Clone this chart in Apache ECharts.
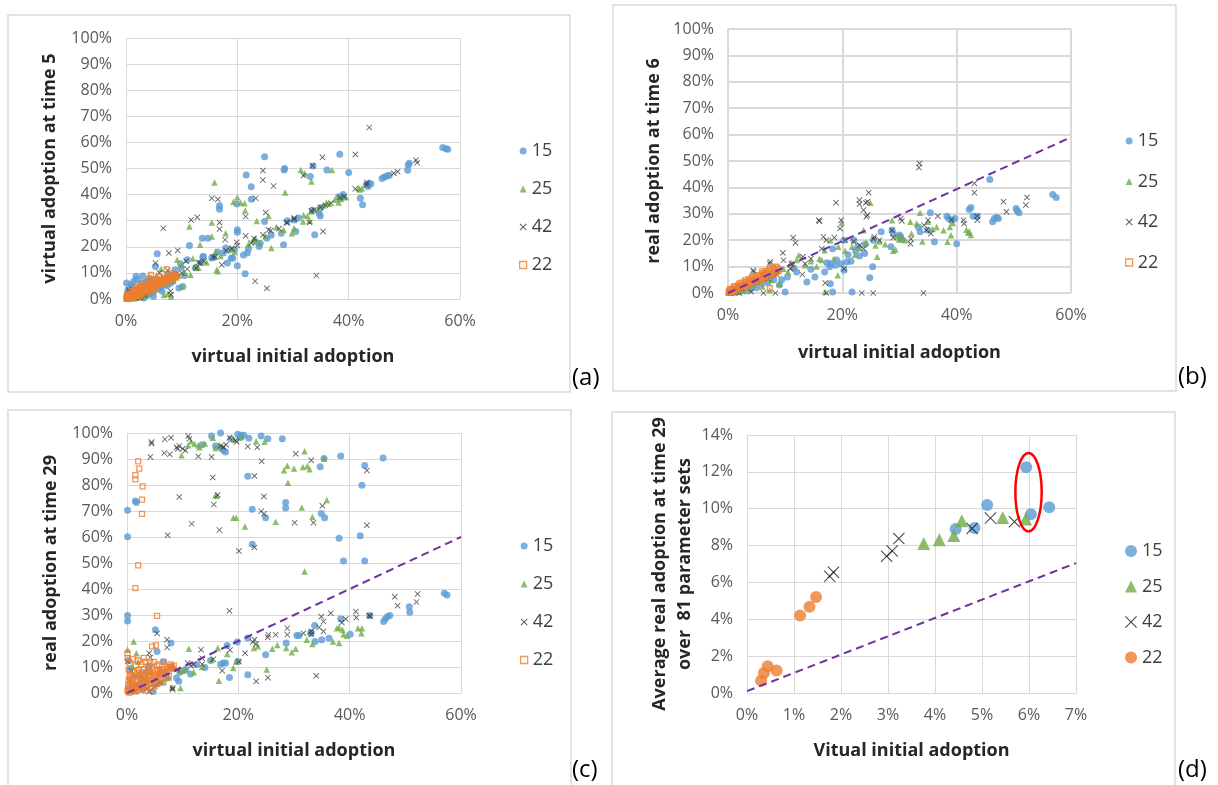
<!DOCTYPE html>
<html>
<head>
<meta charset="utf-8">
<script src="https://cdn.jsdelivr.net/npm/echarts@6/dist/echarts.min.js"></script>
<style>
  html, body { margin: 0; padding: 0; background: #fff; }
  #chart { width: 1218px; height: 785px; }
</style>
</head>
<body>
<div id="chart"></div>
<script>
// ---- data (values in percent: [initial adoption, later adoption]) ----
const seriesNames = ['15', '25', '42', '22'];
const xTicksPct = [0, 20, 40, 60];
const yTicksPct = [0, 10, 20, 30, 40, 50, 60, 70, 80, 90, 100];
const xTicksAvg = [0, 1, 2, 3, 4, 5, 6, 7];
const yTicksAvg = [0, 2, 4, 6, 8, 10, 12, 14];

// (a) virtual adoption at time 5
const a15 = [[57.5,57.6],[56.9,58.0],[57.8,57.4],[50.7,51.3],[50.9,52.0],[50.6,49.3],[46.0,46.2],[46.4,46.7],[46.9,47.1],[47.3,47.4],
  [43.2,43.8],[43.6,44.3],[44.0,44.2],[43.5,43.1],[42.1,38.6],[42.5,36.1],[40.0,48.5],[38.4,55.5],[38.2,39.2],[38.9,39.3],
  [36.1,49.4],[34.7,32.9],[34.9,31.8],[33.9,24.6],[33.1,46.9],[33.6,51.0],[30.5,25.9],[30.2,30.3],[28.4,49.4],[28.5,50.0],
  [28.3,20.8],[27.9,25.2],[25.3,23.3],[24.9,29.7],[24.9,54.5],[23.9,20.1],[24.1,21.4],[22.5,43.0],[22.5,38.2],[21.6,47.5],
  [21.4,9.7],[21.1,16.9],[21.8,17.6],[20.0,26.5],[20.0,25.6],[19.9,36.4],[20.0,12.7],[18.9,15.7],[18.6,18.9],[18.2,13.8],
  [17.5,17.6],[17.9,19.5],[16.8,35.7],[16.8,34.4],[15.4,15.7],[14.7,23.3],[13.7,23.3],[13.9,16.3],[11.4,20.5],[10.2,4.8],
  [9.5,4.2],[8.4,6.8],[8.8,11.2],[5.6,17.3],[5.3,12.5],[4.2,8.0],[3.5,3.6],[1.8,8.7],[1.1,4.8],[0.1,6.1],[2.5,4.8],[4.9,1.0],
  [23.2,22.0],[26.1,24.5],[22.0,19.3],[19.5,19.0],[12.5,12.0],[10.5,9.0],[9.0,8.5],[7.0,6.5],[6.0,5.0],[3.0,2.0],[2.0,1.5],
  [1.5,3.0],[0.5,1.0],[1.0,2.0],[2.8,6.2],[0.3,2.5],[7.5,9.5],[6.5,3.0],[9.8,13.5],[11.0,15.0],[15.8,16.0],[13.5,14.0],
  [16.5,18.0],[29.0,30.0],[31.0,31.0],[35.0,35.0],[39.0,40.0],[33.5,34.0],[19.2,15.6],[13.8,16.2],[9.9,12.1],
  [0.2,0.4],[0.6,0.1],[1.2,0.8],[1.6,0.3],[2.2,0.6],[2.6,1.1],[3.2,0.4],[3.8,1.5],[4.4,2.2],[5.0,2.8],[5.8,3.8],[0.4,3.5],
  [0.9,5.5],[1.4,6.8],[2.0,7.5],[3.0,8.8],[3.6,6.5],[6.2,4.4],[7.4,5.2],[8.0,6.0]];
const a25 = [[41.8,42.4],[42.4,42.4],[42.0,42.0],[38.2,37.0],[38.2,39.0],[37.5,38.0],[38.6,38.3],[37.0,49.4],[33.3,45.0],[33.3,33.5],
  [31.4,49.4],[32.1,48.2],[31.9,32.2],[32.6,31.8],[33.0,30.0],[31.8,29.7],[30.2,27.1],[29.8,25.2],[28.6,40.8],[28.3,26.5],
  [26.1,19.5],[25.6,31.8],[23.5,29.9],[23.2,23.3],[23.0,22.5],[21.4,33.9],[21.3,36.7],[20.0,39.0],[19.3,37.3],[20.6,36.9],
  [17.9,25.2],[15.9,44.6],[15.4,29.3],[15.4,23.9],[16.1,18.2],[16.3,11.2],[16.5,10.6],[13.3,20.8],[11.4,27.8],[12.3,12.5],
  [11.6,9.3],[10.0,4.8],[8.1,1.0],[7.5,2.0],[6.8,1.5],[18.8,19.5],[19.5,18.0],[17.0,16.5],[14.5,14.0],[13.0,12.0],[10.5,10.0],
  [9.5,9.0],[8.5,7.0],[6.5,8.5],[7.0,5.5],[5.0,4.0],[4.0,2.5],[3.0,1.0],[2.0,0.5],[5.5,9.0],[6.3,11.5],[10.0,13.0],[9.2,15.0],
  [12.0,15.5],[25.0,24.0],[27.0,27.5],[24.0,21.5],[22.0,21.0],[35.5,35.8],[36.5,36.5],[34.5,34.5],[39.5,39.0],[36.0,37.0],
  [0.5,0.3],[1.0,0.6],[1.5,1.2],[2.5,1.8],[3.5,2.0],[4.5,3.3],[1.2,2.6],[2.2,3.8]];
const a42 = [[43.7,65.7],[41.2,55.4],[41.2,42.2],[43.2,43.7],[43.3,44.6],[52.1,53.2],[52.3,52.2],[48.1,48.2],[48.8,48.8],[35.3,54.3],
  [35.4,25.9],[34.2,9.0],[33.5,51.1],[33.0,29.3],[33.3,33.8],[31.9,47.3],[30.2,31.0],[28.8,29.3],[26.5,43.3],[25.1,33.1],
  [25.6,26.5],[24.6,24.6],[24.6,49.2],[24.6,45.6],[25.3,4.1],[23.2,6.8],[23.3,38.6],[21.5,31.6],[21.5,24.2],[19.9,21.7],
  [16.8,29.3],[16.8,26.8],[16.5,38.2],[15.4,38.6],[17.8,22.7],[17.2,13.1],[15.6,16.1],[12.8,31.3],[11.7,30.3],[13.3,13.8],
  [12.6,11.8],[9.3,18.6],[7.7,17.6],[6.7,27.1],[5.3,13.8],[8.1,1.7],[8.0,3.0],[34.9,35.2],[35.8,35.9],[36.8,36.7],[38.5,38.8],
  [39.2,39.2],[33.8,34.1],[30.2,30.5],[29.0,29.2],[27.5,27.0],[26.0,26.2],[23.0,23.2],[22.5,21.5],[20.0,20.5],[19.0,19.3],
  [18.0,18.5],[16.0,16.1],[14.0,14.5],[11.0,11.5],[10.0,10.0],[9.0,9.5],[7.0,7.8],[6.0,6.5],[5.0,5.5],[4.0,3.8],[3.0,3.5],
  [2.0,2.5],[1.0,1.5],[0.5,3.5],[0.2,0.8],[2.5,0.5],[4.5,7.0],[7.5,11.0],[6.0,10.0],[10.8,14.5],[13.0,14.0],
  [0.1,0.3],[0.3,1.8],[0.8,0.4],[1.5,0.8],[3.5,1.2],[0.6,2.6]];
const a22 = [[0.1,0.2],[0.2,0.5],[0.3,0.1],[0.4,0.8],[0.5,0.3],[0.6,1.0],[0.7,0.5],[0.8,1.3],[0.9,0.7],[1.0,1.5],[1.1,0.9],
  [1.2,1.8],[1.3,1.1],[1.4,2.2],[1.5,1.4],[1.6,2.5],[1.7,1.6],[1.8,2.9],[1.9,1.9],[2.0,3.2],[2.1,2.2],[2.2,3.5],[2.3,2.5],
  [2.4,1.2],[2.5,3.9],[2.6,2.8],[2.8,4.2],[3.0,3.1],[3.2,4.6],[3.4,3.5],[3.6,5.0],[3.8,3.9],[4.0,5.4],[4.2,4.3],[4.5,9.2],
  [4.6,5.9],[4.8,4.8],[5.0,6.3],[5.3,5.3],[5.6,6.8],[5.9,5.9],[6.2,7.3],[6.5,6.4],[6.8,7.8],[7.1,7.0],[7.3,11.4],[7.4,8.3],
  [7.7,7.5],[8.0,8.8],[8.3,8.1],[8.6,9.2],[8.9,8.6],[0.2,1.5],[1.0,2.8],[2.0,4.5],[3.0,5.8],[4.0,6.8],[5.0,7.6],[6.0,8.5],
  [0.3,1.2],[0.6,0.2],[0.9,1.9],[1.2,0.6],[1.5,2.4],[1.8,1.2],[2.1,3.0],[2.4,1.9],[2.7,3.6],[3.0,2.4],[3.3,4.0],[3.6,3.0],
  [3.9,4.8],[4.2,3.6],[4.5,5.4],[4.8,4.2],[5.1,5.9],[5.4,4.8],[5.7,6.4],[6.0,5.4],[6.3,6.9],[6.6,5.9],[6.9,7.4],[7.2,6.6],
  [7.5,8.0],[7.8,7.0],[8.1,8.4],[8.4,7.6],[8.7,8.9],[9.0,8.2],[1.0,0.3],[2.0,1.0],[3.0,1.8],[4.0,2.8],[5.0,3.6],[0.5,1.8],
  [1.5,3.2],[2.5,4.6],[3.5,5.7],[4.5,6.6],[5.5,7.2],[6.5,7.7],[7.5,8.8],[8.5,9.8],[0.1,0.9],[0.7,2.0],[1.3,2.9],[1.9,3.8]];

// (b) real adoption at time 6
const b15 = [[56.8,37.3],[57.4,36.2],[50.4,32.0],[50.9,30.4],[50.6,31.2],[46.3,27.0],[46.6,28.2],[47.0,28.6],[47.3,28.2],[45.8,43.0],
  [42.2,31.6],[42.5,32.4],[42.9,29.1],[43.6,29.1],[40.0,18.7],[39.1,27.6],[39.7,28.2],[38.3,29.1],[38.6,28.2],[35.4,30.4],
  [36.1,19.4],[35.0,23.8],[33.6,23.2],[33.3,25.0],[30.2,21.3],[30.4,20.3],[30.0,22.0],[28.7,23.8],[28.5,17.5],[28.9,22.5],
  [26.8,23.2],[25.4,20.0],[25.3,9.9],[24.8,5.8],[23.9,15.0],[22.7,17.5],[22.0,20.0],[22.3,16.0],[21.7,0.4],[20.3,20.0],
  [20.3,8.6],[19.8,11.1],[20.8,11.8],[18.3,16.8],[17.9,11.1],[17.8,9.9],[18.3,0.4],[17.9,3.5],[16.9,8.0],[17.3,11.5],
  [15.2,6.1],[13.8,4.2],[10.0,0.4],[10.4,6.1],[9.4,5.0],[24.0,18.5],[23.0,14.0],[21.0,14.5],[19.0,12.5],[12.0,8.0],[11.5,9.5],
  [14.5,9.0],[8.0,5.0],[7.0,4.0],[6.0,3.5],[5.0,2.0],[4.0,1.5],[3.0,0.8],[2.0,0.5],[1.0,0.3],[6.5,7.5],[8.5,8.0],[9.0,3.0],
  [4.5,4.0],[3.5,2.5],[2.5,1.8],[21.5,12.0],[18.8,10.5],[0.4,0.1],[1.5,1.0],[5.5,5.0],[7.5,6.2]];
const b25 = [[42.0,22.8],[41.7,24.0],[42.2,23.4],[42.5,22.0],[39.0,21.9],[38.4,19.4],[37.7,23.8],[38.8,25.0],[39.3,26.5],[33.6,30.4],
  [33.0,26.3],[31.9,27.0],[32.1,22.5],[29.9,20.3],[30.4,21.0],[29.5,21.5],[28.7,27.6],[28.9,16.0],[29.3,16.5],[24.9,34.2],
  [23.7,23.8],[24.2,19.0],[26.1,13.7],[25.8,18.0],[21.7,17.5],[22.2,14.5],[19.9,26.6],[19.3,17.5],[19.2,6.7],[17.9,20.0],
  [16.9,16.2],[16.4,12.5],[16.0,13.0],[17.0,0.5],[12.4,14.3],[11.4,9.9],[11.0,11.5],[9.7,9.2],[9.0,3.5],[7.3,1.0],[6.5,5.5],
  [5.5,4.5],[4.5,3.0],[3.5,2.0],[2.5,1.0],[1.5,0.5],[6.0,2.5],[8.0,7.0],[7.5,5.0],[10.5,8.0],[12.0,12.5],[13.5,10.5],[14.5,12.0],
  [15.5,10.0],[18.5,13.0],[20.5,16.0],[23.0,17.0],[26.5,19.5],[27.5,18.5],[31.0,20.0],[34.0,19.5],[35.0,27.0],[36.5,25.0],[35.8,24.2]];
const b42 = [[33.5,49.1],[33.4,47.5],[43.1,41.5],[43.1,38.0],[43.6,27.6],[43.6,29.1],[41.2,27.6],[41.3,26.3],[52.3,36.2],[52.1,33.3],
  [48.7,30.8],[48.2,34.6],[39.1,27.6],[36.7,29.1],[35.0,27.6],[34.7,23.8],[34.3,25.7],[30.2,28.2],[30.4,27.3],[28.7,23.8],
  [28.9,21.0],[31.9,18.7],[34.2,0.0],[24.6,38.0],[24.4,34.6],[24.1,34.2],[23.7,31.4],[24.2,28.9],[24.4,29.5],[23.0,35.2],
  [23.0,33.7],[26.5,20.0],[25.5,20.6],[25.6,21.3],[23.7,16.8],[23.0,18.1],[23.4,0.0],[25.4,0.0],[19.8,27.6],[19.6,24.4],
  [18.9,34.2],[15.9,27.6],[16.0,27.2],[17.2,20.0],[16.7,21.3],[18.6,21.0],[16.4,16.8],[20.3,9.2],[17.0,3.8],[17.2,0.0],
  [11.4,21.0],[11.8,19.0],[9.6,15.2],[9.7,12.4],[11.1,11.1],[10.9,9.2],[13.1,13.7],[13.5,11.1],[7.3,11.1],[7.4,11.8],[4.4,8.6],
  [4.5,8.0],[8.3,0.0],[6.2,0.0],[5.0,4.0],[6.0,6.5],[3.5,3.0],[2.5,1.5],[1.5,0.5],[0.5,0.0],[4.0,0.5],[7.0,5.5],[8.5,7.0],
  [13.0,7.0],[14.5,13.0],[22.0,19.5],[20.5,20.0],[32.0,20.5],[35.5,22.5],[0.1,0.2],[1.0,0.1],[2.0,0.0]];
const b22 = [[0.1,0.1],[0.3,0.5],[0.5,0.4],[0.7,1.0],[0.9,0.8],[1.1,1.4],[1.3,1.2],[1.5,1.9],[1.7,1.5],[1.9,2.3],[2.1,2.0],
  [2.3,2.8],[2.5,2.4],[2.7,3.2],[2.9,2.7],[3.1,3.6],[3.3,3.1],[3.5,4.0],[3.7,3.5],[3.9,4.5],[4.1,3.9],[4.4,5.0],[4.7,4.4],
  [5.0,5.5],[5.3,4.8],[5.6,6.2],[5.9,5.3],[6.2,7.0],[6.5,6.0],[6.8,7.6],[7.1,6.7],[7.4,8.4],[7.7,7.3],[8.0,9.0],[8.3,8.0],
  [8.6,9.6],[8.9,9.0],[7.3,1.8],[6.0,8.2],[4.2,6.3],[1.0,2.2],[2.0,3.6],[3.0,4.8],[0.4,1.5],
  [0.2,0.9],[0.6,1.6],[1.2,2.6],[1.8,3.0],[2.4,3.9],[3.0,4.2],[3.6,5.2],[4.2,5.6],[4.8,6.3],[5.4,6.8],[6.0,7.5],[6.6,8.3],
  [7.2,8.9],[7.8,9.5],[8.4,10.0],[0.8,0.3],[1.6,0.9],[2.4,1.6],[3.2,2.4],[4.0,3.1],[4.8,3.8],[5.6,4.5],[6.4,5.3],[7.2,6.0],
  [8.0,7.2],[8.8,8.2]];

// (c) real adoption at time 29
const c15 = [[16.8,100.0],[19.9,99.5],[20.5,99.1],[21.0,99.1],[18.7,97.8],[15.2,98.8],[13.5,95.5],[15.9,95.0],[17.3,93.4],[17.7,92.7],
  [17.0,94.0],[21.9,98.0],[24.1,98.8],[25.3,97.8],[27.9,97.8],[20.3,98.3],[21.7,83.4],[22.5,70.7],[22.5,57.2],[24.9,67.4],
  [28.5,73.3],[28.5,71.2],[34.7,87.0],[35.4,90.2],[38.4,91.2],[46.0,90.4],[42.7,87.5],[42.2,79.9],[34.9,69.0],[35.5,67.4],
  [38.1,59.5],[41.9,60.5],[38.9,50.8],[42.7,50.8],[0.1,60.1],[0.1,70.3],[1.5,73.8],[1.7,73.3],
  [0.1,29.8],[0.1,27.7],[57.0,38.4],[57.5,37.7],[50.7,33.2],[50.8,31.1],[46.1,27.5],[46.8,29.4],[47.2,29.8],[46.4,28.5],
  [43.6,29.8],[40.1,22.6],[38.4,28.5],[36.3,21.1],[33.7,26.0],[33.8,19.8],[33.1,23.3],[30.5,22.1],[30.9,22.1],[28.6,19.2],
  [24.9,14.7],[21.7,21.2],[21.7,7.0],[19.9,12.1],[19.8,19.6],[18.4,6.0],[18.0,18.3],[17.3,11.5],[16.8,11.1],[17.7,11.5],
  [14.0,9.8],[11.4,7.3],[7.9,19.2],[5.1,24.3],[5.4,16.0],[7.2,5.8],[8.9,5.8],[9.3,4.5],[4.7,0.6],[3.5,8.0],[2.5,5.0],[1.5,3.0],
  [0.5,9.0],[0.3,12.5],[6.5,12.0],[8.0,10.0],[9.5,8.0],[10.5,9.0],[6.0,8.5],[4.0,10.5],[2.0,6.5],[3.0,2.0],[1.0,1.0],[5.5,3.5],
  [12.5,11.0],[15.0,12.5],[35.0,20.5],[33.0,23.0]];
const c25 = [[15.4,98.2],[11.5,96.8],[12.1,95.9],[12.8,95.3],[11.0,95.3],[9.8,91.4],[15.9,94.2],[16.6,95.3],[19.1,97.6],[20.5,98.5],
  [23.2,96.8],[24.7,96.6],[13.0,94.5],[14.0,96.0],[30.0,86.3],[28.2,85.7],[28.8,87.4],[31.9,93.0],[31.6,86.9],[32.8,86.1],
  [32.4,87.3],[28.9,80.9],[31.4,71.3],[33.3,67.8],[35.9,74.2],[35.4,90.2],[26.7,65.9],[21.2,64.0],[19.6,67.4],[19.1,67.4],
  [15.9,76.1],[16.1,75.9],[31.9,46.7],
  [41.5,24.9],[42.1,23.0],[42.2,24.9],[38.1,25.2],[37.7,24.9],[38.7,24.3],[38.9,22.6],[38.1,19.2],[37.0,19.8],[39.5,22.0],
  [33.3,18.8],[32.3,20.5],[30.3,17.0],[29.6,15.7],[28.6,17.3],[26.1,17.0],[25.1,9.0],[22.8,17.3],[19.6,12.1],[19.1,9.6],
  [16.3,17.3],[16.5,4.7],[15.2,12.8],[11.1,17.0],[10.1,8.6],[8.1,2.2],[9.6,1.9],[1.2,19.8],[1.7,15.3],[0.1,16.6],[2.5,8.0],
  [3.5,5.0],[4.5,3.5],[5.5,7.0],[6.5,4.5],[7.5,6.0],[8.5,9.5],[9.5,8.5],[10.5,9.0],[1.0,10.0],[2.0,12.0],[12.0,8.0],[13.5,10.0],
  [18.0,15.0],[23.5,18.0],[27.0,18.5]];
const c42 = [[4.4,96.5],[4.4,95.9],[4.2,90.8],[6.8,97.6],[7.9,98.2],[6.7,92.3],[7.7,91.8],[8.9,94.5],[9.4,95.0],[9.1,93.9],
  [10.0,93.9],[10.5,93.3],[11.0,98.8],[11.2,97.8],[12.8,91.0],[15.2,90.8],[16.8,95.0],[17.3,94.6],[17.8,95.5],[18.4,98.2],
  [19.5,97.2],[19.7,96.6],[21.7,94.8],[23.4,94.5],[24.2,89.1],[30.3,92.0],[33.1,89.5],[43.1,85.6],[15.4,82.9],[22.9,83.5],
  [9.4,75.4],[16.3,76.2],[24.6,75.6],[15.6,72.5],[35.1,72.0],[24.1,69.9],[24.6,68.9],[16.6,62.7],[7.3,60.7],[11.6,65.1],
  [30.1,65.5],[33.5,65.5],[43.1,64.5],[20.1,54.6],[22.9,56.0],[18.4,31.6],
  [52.2,38.1],[52.0,35.0],[48.1,37.0],[48.6,33.6],[43.5,29.8],[43.7,29.5],[41.1,31.3],[41.2,29.0],[39.3,28.5],[38.6,27.1],
  [36.6,30.7],[34.9,29.4],[35.3,27.5],[35.3,23.7],[34.5,25.2],[33.1,23.7],[33.1,22.6],[31.7,23.0],[28.8,24.9],[28.8,22.4],
  [26.7,22.4],[25.4,22.4],[25.3,21.4],[22.9,20.5],[22.6,19.6],[23.2,18.8],[21.2,15.3],[20.1,12.1],[17.1,8.6],[23.2,4.5],
  [25.3,5.9],[34.0,6.6],[13.3,16.6],[13.5,13.4],[13.5,11.1],[10.9,11.5],[5.4,22.9],[7.2,20.5],[7.2,17.5],[4.0,15.3],[4.2,13.7],
  [0.1,12.1],[5.8,7.0],[8.2,1.9],[8.2,1.3],[4.0,0.5],[2.0,3.0],[3.0,5.5],[6.0,4.0],[1.0,6.0],[9.0,9.0],[11.5,10.5],[15.5,13.0],
  [18.5,16.5],[12.0,11.0],[7.0,8.0],[2.5,1.0],[5.0,2.5],[0.2,2.0],[0.5,4.5],[1.5,0.5],[3.5,1.5],[0.8,8.5]];
const c22 = [[2.0,89.1],[2.2,86.3],[1.5,83.8],[1.5,82.2],[2.8,79.5],[2.7,74.4],[2.7,68.9],[2.0,49.1],[1.5,40.3],[5.4,29.7],
  [4.5,17.9],[5.2,18.3],[0.1,15.3],[0.1,13.4],
  [0.2,0.5],[0.4,2.0],[0.6,4.0],[0.8,6.0],[1.0,1.0],[1.2,8.0],[1.4,3.0],[1.6,10.5],[1.8,5.0],[2.0,12.5],[2.2,2.0],[2.4,7.0],
  [2.6,11.0],[2.8,4.0],[3.0,9.0],[3.2,12.0],[3.4,6.0],[3.6,2.5],[3.8,10.0],[4.0,8.0],[4.2,11.5],[4.4,5.0],[4.6,9.5],[4.8,12.0],
  [5.0,7.0],[5.2,3.5],[5.4,10.5],[5.6,8.5],[5.8,11.0],[6.0,6.0],[6.3,9.0],[6.6,12.0],[6.9,7.5],[7.2,10.0],[7.5,8.5],[7.8,11.0],
  [8.1,9.5],[8.4,10.5],[0.5,11.5],[1.0,13.0],[3.0,13.5],[0.3,9.0],[0.2,3.0],[0.5,6.5],[1.5,1.5],[2.5,3.5],[3.5,4.5],[4.5,2.0],
  [5.5,5.0],[6.5,4.0],[7.5,6.5],[0.8,2.5],[1.8,7.5],[2.8,1.5],[3.8,7.0],[4.8,6.0],
  [0.1,1.0],[0.3,5.0],[0.6,7.0],[0.9,3.5],[1.1,5.5],[1.3,0.6],[1.6,6.5],[1.9,2.5],[2.1,9.0],[2.3,4.5],[2.6,8.0],[2.9,6.0],
  [3.1,3.0],[3.3,7.5],[3.6,5.0],[3.9,8.5],[4.1,3.8],[4.3,6.5],[4.6,7.8],[4.9,4.5],[5.1,8.8],[5.3,6.2],[5.7,7.3],[6.1,8.0],
  [6.4,6.8],[6.8,9.2],[7.1,8.2],[7.4,9.4],[7.7,9.8],[8.0,10.2],[0.4,0.2],[1.2,2.0],[2.0,1.2],[2.7,2.5],[3.5,1.0],[4.2,1.8]];

// (d) average real adoption at time 29 over 81 parameter sets
const d15 = [[5.94,12.25],[5.11,10.2],[6.43,10.08],[6.04,9.7],[4.44,8.9],[4.84,8.95]];
const d25 = [[3.76,8.11],[4.09,8.31],[4.40,8.55],[4.57,9.35],[5.44,9.53],[5.93,9.44]];
const d42 = [[1.76,6.33],[1.84,6.55],[2.97,7.42],[3.09,7.71],[3.23,8.38],[4.79,8.93],[5.18,9.49],[5.69,9.29]];
const d22 = [[0.30,0.67],[0.36,1.09],[0.44,1.45],[0.63,1.22],[1.13,4.21],[1.33,4.68],[1.47,5.21]];

// reference lines y = x
const diagB = [[0, 0], [60, 59]];
const diagC = [[0, 0], [60, 60]];
const diagD = [[0, 0.1], [7, 7.05]];

// highlighted pair in (d): centre and half-extent, in axis units
const ringCenter = [5.99, 10.9];
const ringHalf = [0.28, 2.13];

// ---- styling ----
const FONT = '"Open Sans", "Noto Sans", sans-serif';
const BLUE = '#5B9BD5', GREEN = '#70AD47', ORANGE = '#ED7D31', PURPLE = '#7030A0';
const CROSS = 'path://M1,0L5,4L9,0L10,1L6,5L10,9L9,10L5,6L1,10L0,9L4,5L0,1Z';
const CROSS_THIN = 'path://M0.6,0L5,4.4L9.4,0L10,0.6L5.6,5L10,9.4L9.4,10L5,5.6L0.6,10L0,9.4L4.4,5L0,0.6Z';

const panels = [
  { grid: { left: 126, top: 38, width: 334, height: 261 }, yName: 'virtual adoption at time 5', yGap: 64,
    xName: 'virtual initial adoption', xGap: 45, x: xTicksPct, y: yTicksPct, gridW: 1,
    sets: [a15, a25, a42, a22], diag: null,
    legend: { left: 514, top: 137, gap: 20 }, frame: [8, 15, 562, 377], tag: ['(a)', 572, 378] },
  { grid: { left: 728, top: 29, width: 343, height: 264 }, yName: 'real adoption at time 6', yGap: 62,
    xName: 'virtual initial adoption', xGap: 47, x: xTicksPct, y: yTicksPct, gridW: 2,
    sets: [b15, b25, b42, b22], diag: diagB,
    legend: { left: 1120, top: 127, gap: 22.5 }, frame: [613, 5, 563, 386], tag: ['(b)', 1178, 377] },
  { grid: { left: 127, top: 433, width: 334, height: 260 }, yName: 'real adoption at time 29', yGap: 64,
    xName: 'virtual initial adoption', xGap: 45, x: xTicksPct, y: yTicksPct, gridW: 1,
    sets: [c15, c25, c42, c22], diag: diagC,
    legend: { left: 515, top: 532, gap: 20 }, frame: [8, 410, 563, 390], tag: ['(c)', 572, 770] },
  { grid: { left: 747, top: 435, width: 329, height: 258 }, yName: 'Average real adoption at time 29\nover  81 parameter sets', yGap: 50,
    xName: 'Vitual initial adoption', xGap: 45, x: xTicksAvg, y: yTicksAvg, gridW: 1,
    sets: [d15, d25, d42, d22], diag: diagD,
    legend: { left: 1120, top: 537, gap: 17.5 }, frame: [612, 412, 563, 390], tag: ['(d)', 1178, 770] }
];

function markStyles(big) {
  if (big) {
    return [
      { symbol: 'circle', size: 12, itemStyle: { color: BLUE } },
      { symbol: 'triangle', size: 13, itemStyle: { color: GREEN } },
      { symbol: CROSS_THIN, size: 12, itemStyle: { color: '#111' } },
      { symbol: 'circle', size: 12, itemStyle: { color: ORANGE } }
    ];
  }
  return [
    { symbol: 'circle', size: 7, itemStyle: { color: BLUE } },
    { symbol: 'triangle', size: 6.5, itemStyle: { color: GREEN } },
    { symbol: CROSS, size: 6, itemStyle: { color: '#333' } },
    // hollow squares (no fill), so dense clusters read as a solid patch
    { symbol: 'rect', size: 5, itemStyle: { color: 'rgba(255,255,255,0)', borderColor: ORANGE, borderWidth: 1.3 } }
  ];
}

const option = {
  animation: false,
  backgroundColor: '#fff',
  grid: [], xAxis: [], yAxis: [], legend: [], series: [], graphic: []
};

panels.forEach((p, i) => {
  const big = i === 3;
  const styles = markStyles(big);
  option.grid.push(Object.assign({ containLabel: false }, p.grid));
  const split = { show: true, lineStyle: { color: '#d9d9d9', width: p.gridW } };
  const label = { color: '#595959', fontSize: 16, fontFamily: FONT, margin: 14, formatter: '{value}%' };
  const nameStyle = { color: '#262626', fontSize: 18, fontWeight: 'bold', fontFamily: FONT, lineHeight: 25 };
  option.xAxis.push({
    type: 'value', gridIndex: i, min: p.x[0], max: p.x[p.x.length - 1], interval: p.x[1] - p.x[0],
    axisLine: { show: false }, axisTick: { show: false }, splitLine: split, axisLabel: label,
    name: p.xName, nameLocation: 'middle', nameGap: p.xGap, nameTextStyle: nameStyle
  });
  option.yAxis.push({
    type: 'value', gridIndex: i, min: p.y[0], max: p.y[p.y.length - 1], interval: p.y[1] - p.y[0],
    axisLine: { show: false }, axisTick: { show: false }, splitLine: split, axisLabel: label,
    name: p.yName, nameLocation: 'middle', nameGap: p.yGap, nameRotate: 90, nameTextStyle: nameStyle
  });
  seriesNames.forEach((name, k) => {
    option.series.push({
      type: 'scatter', name: name, xAxisIndex: i, yAxisIndex: i,
      symbol: styles[k].symbol, symbolSize: styles[k].size, itemStyle: styles[k].itemStyle,
      data: p.sets[k], emphasis: { disabled: true }
    });
  });
  if (p.diag) {
    option.series.push({
      type: 'line', xAxisIndex: i, yAxisIndex: i, data: p.diag, symbol: 'none', silent: true,
      lineStyle: { color: PURPLE, width: 2, type: [8, 5] }, z: 3
    });
  }
  const iconSize = big ? 12 : 7;
  option.legend.push({
    orient: 'vertical', left: p.legend.left, top: p.legend.top, itemGap: p.legend.gap,
    itemWidth: iconSize, itemHeight: iconSize, itemStyle: { borderWidth: 0 },
    textStyle: { color: '#404040', fontSize: 18, fontFamily: FONT, lineHeight: 18 },
    selectedMode: false,
    data: seriesNames.map((name, k) => ({
      name: name,
      icon: k === 0 ? 'circle' : k === 1 ? 'triangle' : k === 2 ? styles[2].symbol : styles[3].symbol,
      itemStyle: Object.assign({ borderWidth: 0 }, styles[k].itemStyle)
    }))
  });
  option.graphic.push({
    type: 'rect', id: 'frame' + i, silent: true, z: -1,
    shape: { x: p.frame[0], y: p.frame[1], width: p.frame[2], height: p.frame[3] },
    style: { fill: null, stroke: '#d9d9d9', lineWidth: 1.5 }
  });
  option.graphic.push({
    type: 'text', id: 'tag' + i, silent: true, x: p.tag[1], y: p.tag[2],
    style: { text: p.tag[0], font: '24px ' + FONT, fill: '#000', verticalAlign: 'middle' }
  });
});

const chart = echarts.init(document.getElementById('chart'), null, { renderer: 'canvas' });
chart.setOption(option);

// red ring around the highlighted pair in (d)
const c = chart.convertToPixel({ gridIndex: 3 }, ringCenter);
const e = chart.convertToPixel({ gridIndex: 3 }, [ringCenter[0] + ringHalf[0], ringCenter[1] + ringHalf[1]]);
chart.setOption({
  graphic: [{
    type: 'ellipse', id: 'ring', silent: true, z: 10,
    shape: { cx: c[0], cy: c[1], rx: Math.abs(e[0] - c[0]), ry: Math.abs(c[1] - e[1]) },
    style: { fill: null, stroke: '#FF0000', lineWidth: 2.5 }
  }]
});
</script>
</body>
</html>
